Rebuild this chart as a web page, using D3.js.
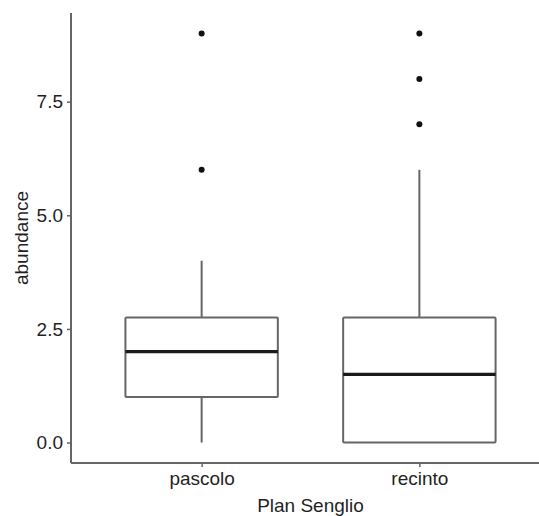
<!DOCTYPE html>
<html>
<head>
<meta charset="utf-8">
<script src="https://cdn.jsdelivr.net/npm/d3@7"></script>
<style>
  html, body { margin: 0; padding: 0; background: #fff; }
  svg { display: block; }
  text { font-family: "Liberation Sans", Arial, sans-serif; }
</style>
</head>
<body>
<svg id="chart" width="539" height="516"></svg>
<script>
// Box-plot summaries of abundance per site type
const categories   = ["pascolo", "recinto"];
const whiskerLow   = [0, 0];
const q1           = [1, 0];
const median       = [2, 1.5];
const q3           = [2.75, 2.75];
const whiskerHigh  = [4, 6];
const outliers     = [[6, 9], [7, 8, 9]];
const yTicks       = [0, 2.5, 5, 7.5];

const svg = d3.select("#chart");
const panel = { left: 71, right: 550, top: 13, bottom: 463 };

const x = d3.scalePoint()
  .domain(categories)
  .range([panel.left, panel.right])
  .padding(0.6);

const y = d3.scaleLinear()
  .domain([-0.45, 9.45])
  .range([panel.bottom, panel.top]);

const step = x.step();
const boxW = step * 0.7;
const lineCol = "#666";
const textCol = "#1f1f1f";

const boxes = categories.map((c, i) => ({
  cat: c, lo: whiskerLow[i], q1: q1[i], med: median[i], q3: q3[i], hi: whiskerHigh[i], out: outliers[i]
}));

const g = svg.append("g");

// whiskers
g.selectAll("line.whisker-up").data(boxes).join("line")
  .attr("x1", d => x(d.cat)).attr("x2", d => x(d.cat))
  .attr("y1", d => y(d.q3)).attr("y2", d => y(d.hi))
  .attr("stroke", lineCol).attr("stroke-width", 2);
g.selectAll("line.whisker-down").data(boxes).join("line")
  .attr("x1", d => x(d.cat)).attr("x2", d => x(d.cat))
  .attr("y1", d => y(d.q1)).attr("y2", d => y(d.lo))
  .attr("stroke", lineCol).attr("stroke-width", 2);

// boxes
g.selectAll("rect.box").data(boxes).join("rect")
  .attr("x", d => x(d.cat) - boxW / 2)
  .attr("width", boxW)
  .attr("y", d => y(d.q3))
  .attr("height", d => y(d.q1) - y(d.q3))
  .attr("fill", "#fff")
  .attr("stroke", lineCol).attr("stroke-width", 2)
  .attr("rx", 1);

// medians
g.selectAll("line.median").data(boxes).join("line")
  .attr("x1", d => x(d.cat) - boxW / 2).attr("x2", d => x(d.cat) + boxW / 2)
  .attr("y1", d => y(d.med)).attr("y2", d => y(d.med))
  .attr("stroke", "#1a1a1a").attr("stroke-width", 3.2);

// outlier points
const pts = boxes.flatMap(d => d.out.map(v => ({ cat: d.cat, v })));
g.selectAll("circle.out").data(pts).join("circle")
  .attr("cx", d => x(d.cat)).attr("cy", d => y(d.v))
  .attr("r", 3).attr("fill", "#111");

// axes
const axisCol = "#666";
const yAxis = svg.append("g")
  .attr("transform", `translate(${panel.left},0)`)
  .call(d3.axisLeft(y).tickValues(yTicks).tickFormat(d3.format(".1f")).tickSize(4).tickPadding(4));
const xAxis = svg.append("g")
  .attr("transform", `translate(0,${panel.bottom})`)
  .call(d3.axisBottom(x).tickSize(4).tickPadding(5));

[yAxis, xAxis].forEach(a => {
  a.select(".domain").attr("stroke", axisCol).attr("stroke-width", 2);
  a.selectAll(".tick line").attr("stroke", axisCol).attr("stroke-width", 1.5);
  a.selectAll(".tick text").attr("fill", textCol).style("font-size", "19px")
    .style("font-family", "'Liberation Sans', Arial, sans-serif");
});
// axis lines only span the panel (no outer ticks)
yAxis.select(".domain").attr("d", `M0,${panel.top}V${panel.bottom}`);
xAxis.select(".domain").attr("d", `M${panel.left},0H${panel.right}`);

// axis titles
svg.append("text")
  .attr("x", (panel.left + panel.right) / 2)
  .attr("y", 512)
  .attr("text-anchor", "middle")
  .attr("fill", textCol)
  .style("font-size", "19px")
  .text("Plan Senglio");

svg.append("text")
  .attr("transform", `translate(28,${(panel.top + panel.bottom) / 2}) rotate(-90)`)
  .attr("text-anchor", "middle")
  .attr("fill", textCol)
  .style("font-size", "19px")
  .text("abundance");
</script>
</body>
</html>
